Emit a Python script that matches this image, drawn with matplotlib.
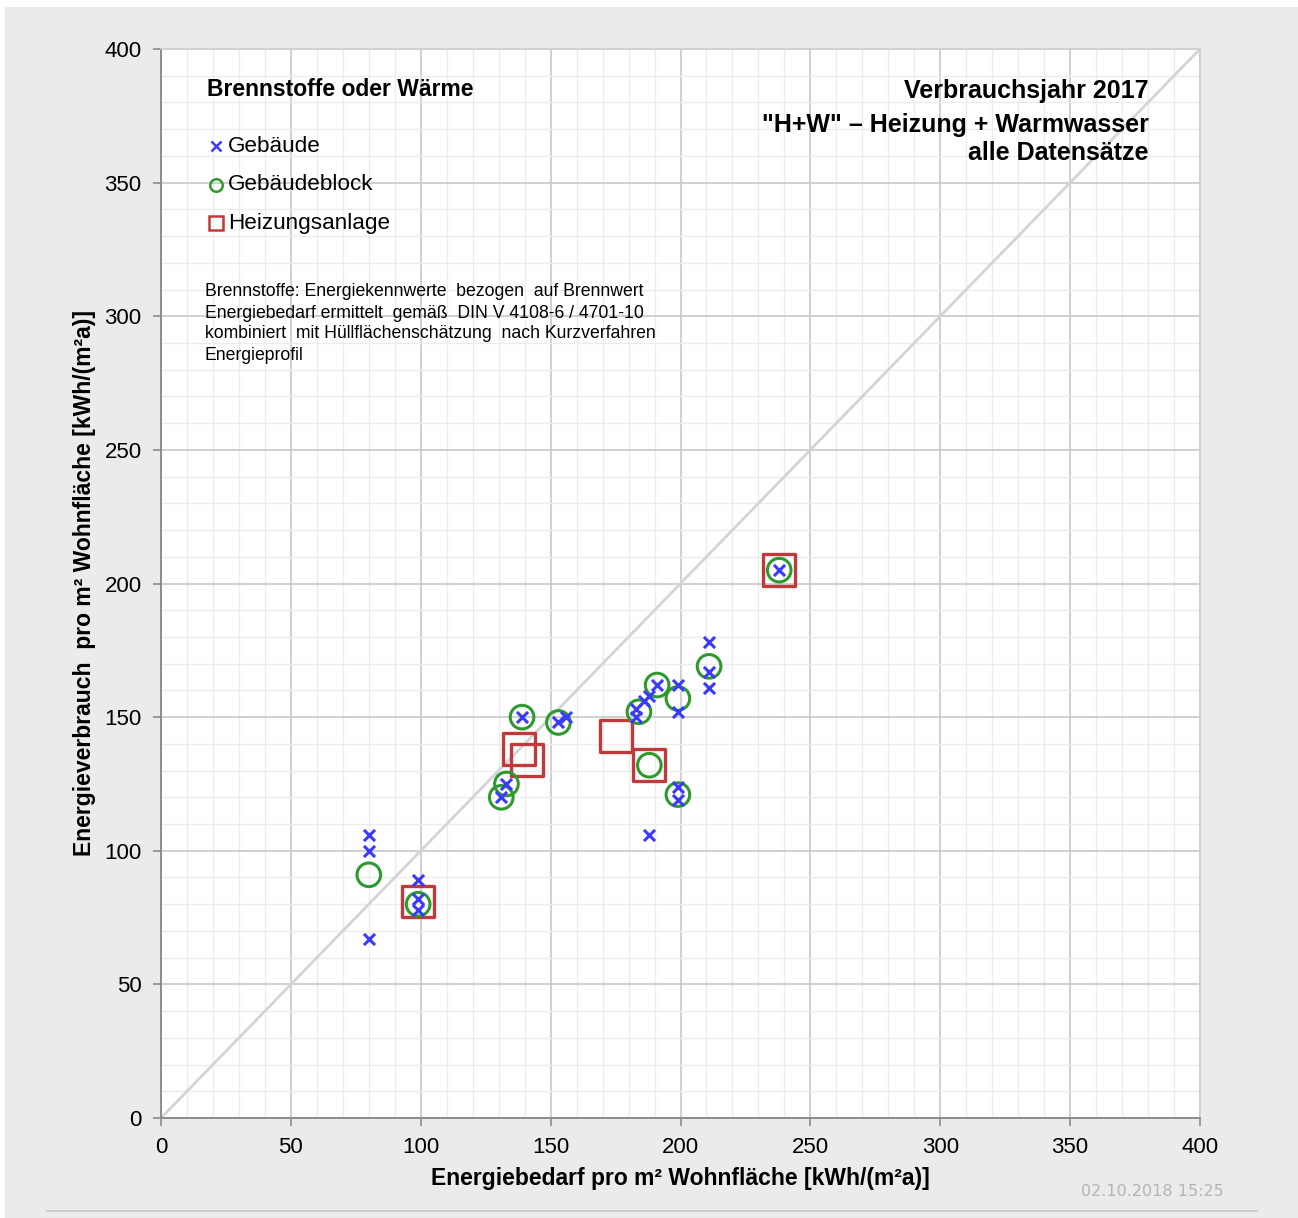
import matplotlib.pyplot as plt
from matplotlib.patches import Rectangle
from matplotlib.lines import Line2D

plt.rcParams['font.family'] = ['Liberation Sans', 'DejaVu Sans']

# Gebäude (Kreuze)
geb_x = [80, 80, 80, 99, 99, 99, 131, 133, 139, 153, 156, 183, 183, 186, 188, 191,
         199, 199, 199, 199, 188, 211, 211, 211, 238]
geb_y = [106, 100, 67, 89, 82, 78, 120, 125, 150, 148, 150, 153, 150, 156, 158, 162,
         162, 152, 124, 119, 106, 178, 167, 161, 205]

# Gebäudeblock (Kreise)
blk_x = [80, 99, 131, 133, 139, 153, 184, 191, 199, 211, 188, 199, 238]
blk_y = [91, 80, 120, 125, 150, 148, 152, 162, 157, 169, 132, 121, 205]

# Heizungsanlage (Quadrate)
anl_x = [99, 138, 141, 175, 188, 238]
anl_y = [81, 138, 134, 143, 132, 205]

achsen_ticks = [0, 50, 100, 150, 200, 250, 300, 350, 400]

W, H = 1298, 1218
fig = plt.figure(figsize=(W / 100, H / 100), dpi=100, facecolor='white')
fig.patches.append(Rectangle((5 / W, 0), 1, (H - 7) / H, transform=fig.transFigure,
                             facecolor='#ebebeb', edgecolor='none', zorder=-5))
fig.add_artist(Line2D([47 / W, 1257 / W], [1 - 1211 / H, 1 - 1211 / H],
                      color='#c8c8c8', lw=1.2, zorder=-4))

ax = fig.add_axes([161 / W, 1 - 1118 / H, (1200 - 161) / W, (1118 - 49) / H])
ax.set_zorder(1)
ax.set_facecolor('white')
ax.set_xlim(0, 400)
ax.set_ylim(0, 400)
ax.set_xticks(achsen_ticks)
ax.set_yticks(achsen_ticks)
ax.set_xticks(range(0, 401, 10), minor=True)
ax.set_yticks(range(0, 401, 10), minor=True)
ax.grid(which='minor', color='#ececec', lw=1.0, zorder=0)
ax.grid(which='major', color='#c8c8c8', lw=1.2, zorder=0)
ax.set_axisbelow(True)
ax.tick_params(which='minor', length=0)
ax.tick_params(which='major', length=6, width=1.2, color='#8c8c8c', labelsize=16)
ax.tick_params(axis='x', pad=8)
ax.tick_params(axis='y', pad=8)
for s in ['left', 'bottom']:
    ax.spines[s].set_color('#8c8c8c')
    ax.spines[s].set_linewidth(1.4)
for s in ['top', 'right']:
    ax.spines[s].set_color('#cfcfcf')
    ax.spines[s].set_linewidth(1.2)

# Diagonale
ax.plot([0, 400], [0, 400], color='#d4d4d4', lw=2, zorder=1)

ax.scatter(anl_x, anl_y, marker='s', s=23 ** 2, facecolors='none',
           edgecolors='#c0393b', linewidths=2.4, zorder=3)
ax.scatter(blk_x, blk_y, marker='o', s=17 ** 2, facecolors='none',
           edgecolors='#2e9a2e', linewidths=2.2, zorder=4)
ax.scatter(geb_x, geb_y, marker='x', s=8 ** 2, color='#3a3aff',
           linewidths=2.2, zorder=5)

# Legende
def px(x, y):
    return ((x - 161) / (1200 - 161), (1118 - y) / (1118 - 49))

ax.text(*px(207, 89), 'Brennstoffe oder Wärme', transform=ax.transAxes,
        fontsize=16.5, fontweight='bold', va='center', ha='left')
legende = [('x', '#3a3aff', 'Gebäude', 146, 7),
           ('o', '#2e9a2e', 'Gebäudeblock', 185, 9),
           ('s', '#c0393b', 'Heizungsanlage', 223, 10)]
for m, c, label, yy, ms in legende:
    ax.plot(*px(216, yy), marker=m, ms=ms, mfc='none', mec=c, mew=1.8,
            transform=ax.transAxes, clip_on=False, zorder=6)
    ax.text(*px(228, yy), label, transform=ax.transAxes, fontsize=16.2,
            va='center', ha='left')

notiz = ['Brennstoffe: Energiekennwerte  bezogen  auf Brennwert',
         'Energiebedarf ermittelt  gemäß  DIN V 4108-6 / 4701-10',
         'kombiniert  mit Hüllflächenschätzung  nach Kurzverfahren',
         'Energieprofil']
for i, zeile in enumerate(notiz):
    ax.text(*px(205, 292 + 21 * i), zeile, transform=ax.transAxes, fontsize=12.7,
            va='center', ha='left')

titel = [('Verbrauchsjahr 2017', 91), ('"H+W" – Heizung + Warmwasser', 125),
         ('alle Datensätze', 153)]
for t, yy in titel:
    ax.text(*px(1149, yy), t, transform=ax.transAxes, fontsize=18,
            fontweight='bold', va='center', ha='right')

fig.text(680 / W, 1 - 1179 / H, 'Energiebedarf pro m² Wohnfläche [kWh/(m²a)]',
         fontsize=16.5, fontweight='bold', ha='center', va='center')
fig.text(85 / W, 1 - 583 / H, 'Energieverbrauch  pro m² Wohnfläche [kWh/(m²a)]',
         fontsize=16.5, fontweight='bold', ha='center', va='center', rotation=90)
fig.text(1224 / W, 1 - 1191 / H, '02.10.2018 15:25', fontsize=11.5,
         family='DejaVu Sans', color='#b4b4b4', ha='right', va='center')

fig.savefig('out.png', dpi=100, facecolor=fig.get_facecolor())
